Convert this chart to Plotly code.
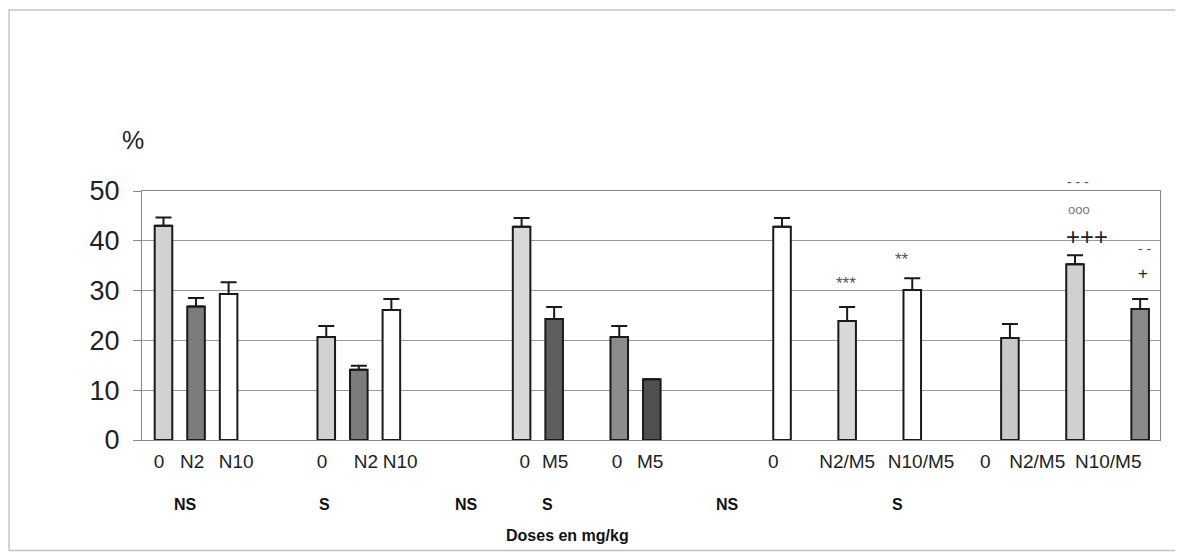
import plotly.graph_objects as go

# ---- data ----
slots = [0, 1, 2, 5, 6, 7, 11, 12, 14, 15, 19, 21, 23, 26, 28, 30]
values = [43.0, 26.8, 29.3, 20.7, 14.1, 26.1, 42.8, 24.3, 20.7, 12.2,
          42.8, 23.9, 30.1, 20.5, 35.3, 26.3]
errors = [1.7, 1.7, 2.4, 2.2, 0.8, 2.2, 1.8, 2.4, 2.2, 0.0,
          1.8, 2.8, 2.4, 2.8, 1.8, 2.0]
colors = ["#d2d2d2", "#7c7c7c", "#ffffff", "#d2d2d2", "#7c7c7c", "#ffffff",
          "#d8d8d8", "#5e5e5e", "#8c8c8c", "#505050", "#ffffff", "#d8d8d8",
          "#ffffff", "#c8c8c8", "#d0d0d0", "#8a8a8a"]

# tick labels and where the labels sit (slot units)
labels = ["0", "N2", "N10", "0", "N2", "N10", "0", "M5", "0", "M5",
          "0", "N2/M5", "N10/M5", "0", "N2/M5", "N10/M5"]
label_pos = [-0.14, 0.88, 2.23, 4.87, 6.22, 7.27, 11.1, 12.03, 13.93, 14.95,
             18.73, 21.0, 23.27, 25.24, 26.84, 29.02]

group_labels = ["NS", "S", "NS", "S", "NS", "S"]
group_label_x = [0.043, 0.179, 0.319, 0.398, 0.575, 0.742]

# significance marks
marks_slot = [20.95, 22.69, 28.37, 28.12, 28.09, 30.09, 30.15]
marks_y = [31.5, 36.3, 40.8, 46.3, 51.8, 33.5, 38.3]
marks_text = ["***", "**", "+++", "ooo", "- - -", "+", "- -"]
marks_size = [17, 17, 24, 13, 14, 17, 14]
marks_color = ["#555555", "#555555", "#222222", "#777777", "#555555", "#222222", "#555555"]

Y_MAX = 50
FONT = "Liberation Sans, Arial, sans-serif"

fig = go.Figure()
fig.add_trace(go.Bar(
    x=slots, y=values, width=0.54,
    marker=dict(color=colors, line=dict(color="#1a1a1a", width=2)),
    error_y=dict(type="data", array=errors, arrayminus=[0] * len(errors),
                 symmetric=False, color="#1a1a1a", thickness=2, width=8),
    showlegend=False, hoverinfo="skip",
))

annotations = []
for xs, ys, t, s, c in zip(marks_slot, marks_y, marks_text, marks_size, marks_color):
    annotations.append(dict(x=xs, y=ys / Y_MAX, xref="x", yref="paper", text=t, showarrow=False,
                            xanchor="center", yanchor="middle",
                            font=dict(family=FONT, size=s, color=c)))
for gx, gt in zip(group_label_x, group_labels):
    annotations.append(dict(x=gx, y=-0.261, xref="paper", yref="paper", text="<b>%s</b>" % gt,
                            xanchor="center", yanchor="middle",
                            showarrow=False, font=dict(family=FONT, size=16, color="#111")))
annotations.append(dict(x=0.418, y=-0.382, xref="paper", yref="paper", text="<b>Doses en mg/kg</b>",
                        xanchor="center", yanchor="middle",
                        showarrow=False, font=dict(family=FONT, size=16, color="#111")))
annotations.append(dict(x=-0.009, y=1.205, xref="paper", yref="paper", text="%",
                        xanchor="center", yanchor="middle",
                        showarrow=False, font=dict(family=FONT, size=25, color="#222")))

fig.update_layout(
    width=1175, height=545,
    margin=dict(l=134, r=23, t=183, b=113),
    paper_bgcolor="white", plot_bgcolor="white",
    annotations=annotations,
    shapes=[dict(type="rect", xref="paper", yref="paper",
                 x0=-0.1306, x1=1.0196, y0=-0.4438, y1=1.727,
                 line=dict(color="#c4c4c4", width=1.5))],
    xaxis=dict(range=[-0.66, 30.61], tickvals=label_pos, ticktext=labels,
               showgrid=False, zeroline=False, showline=True, linecolor="#888",
               linewidth=1, mirror=True, ticks="", ticklabelstandoff=4,
               tickfont=dict(family=FONT, size=19, color="#222")),
    yaxis=dict(range=[0, Y_MAX], dtick=10, showgrid=True, gridcolor="#9a9a9a", gridwidth=1,
               zeroline=False, showline=True, linecolor="#888", linewidth=1, mirror=True,
               ticks="outside", ticklen=8, tickcolor="#888", ticklabelstandoff=8,
               tickfont=dict(family=FONT, size=27, color="#222")),
)

fig.write_html("out.html")
